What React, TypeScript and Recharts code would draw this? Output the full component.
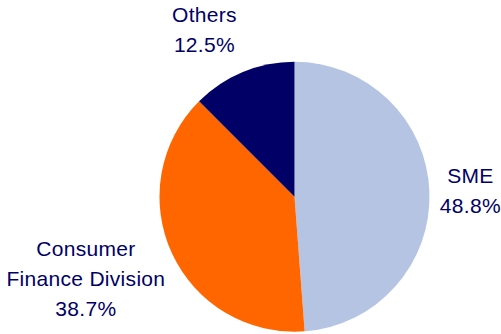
import React from 'react';
import { PieChart, Pie, Cell } from 'recharts';

const segments = ['SME', 'Consumer Finance Division', 'Others'];
const shares = [48.8, 38.7, 12.5];
const labelLines = [['SME'], ['Consumer', 'Finance Division'], ['Others']];
const colors = ['#B4C4E2', '#FF6600', '#000066'];

const data = segments.map((name, i) => ({ name, value: shares[i] }));

// how far out each label sits, and a small angle nudge (deg)
const labelRadius = [176, 224, 190];
const labelNudge = [0, -3.3, 5.8];

const RAD = Math.PI / 180;

const renderLabel = (props: any) => {
  const { cx, cy, midAngle, index } = props;
  const angle = (midAngle + labelNudge[index]) * RAD;
  const x = cx + labelRadius[index] * Math.cos(angle);
  const y = cy - labelRadius[index] * Math.sin(angle);
  const lines = [...labelLines[index], `${shares[index].toFixed(1)}%`];
  const lineH = 30;
  const firstY = y - ((lines.length - 1) * lineH) / 2 + 7.5;
  return (
    <text
      x={x}
      y={firstY}
      textAnchor="middle"
      fill="#000066"
      fontFamily="'Liberation Sans', Arial, sans-serif"
      fontSize={21}
      letterSpacing={0.3}
    >
      {lines.map((line, i) => (
        <tspan key={i} x={x} y={firstY + i * lineH}>
          {line}
        </tspan>
      ))}
    </text>
  );
};

export default function App() {
  return (
    <div style={{ position: 'fixed', left: 0, top: 0, width: 501, height: 334, background: '#fff' }}>
      <PieChart width={501} height={334} margin={{ top: 0, right: 0, bottom: 0, left: 0 }}>
        <Pie
          data={data}
          dataKey="value"
          nameKey="name"
          cx={294.5}
          cy={196.7}
          outerRadius={135}
          startAngle={90}
          endAngle={-270}
          stroke="none"
          label={renderLabel}
          labelLine={false}
          isAnimationActive={false}
        >
          {data.map((d, i) => (
            <Cell key={d.name} fill={colors[i]} />
          ))}
        </Pie>
      </PieChart>
    </div>
  );
}
